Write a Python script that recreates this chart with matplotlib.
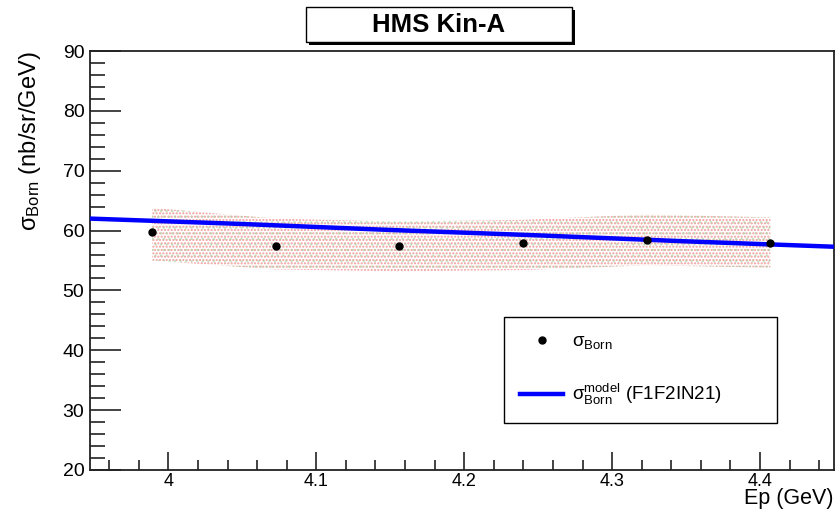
import numpy as np
import matplotlib.pyplot as plt
from matplotlib.patches import Rectangle
from matplotlib.ticker import MultipleLocator, FormatStrFormatter

plt.rcParams['font.family'] = ['Liberation Sans', 'DejaVu Sans']
plt.rcParams['mathtext.fontset'] = 'custom'
plt.rcParams['mathtext.rm'] = 'Liberation Sans'
plt.rcParams['mathtext.it'] = 'Liberation Sans:italic'
plt.rcParams['hatch.linewidth'] = 1.0

# Born cross section vs scattered energy
ep = [3.989, 4.0725, 4.156, 4.24, 4.3235, 4.407]
sigma_born = [59.7, 57.5, 57.4, 58.0, 58.5, 58.0]
band_hi = [63.8, 62.0, 61.5, 61.8, 62.7, 62.2]
band_lo = [55.0, 53.5, 53.2, 53.4, 54.2, 53.8]

# F1F2IN21 model curve
ep_model = [3.947, 4.05, 4.15, 4.25, 4.35, 4.45]
sigma_model = [62.0, 61.1, 60.1, 59.2, 58.2, 57.3]

fig = plt.figure(figsize=(8.4, 5.15), dpi=100)
ax = fig.add_axes([90/840, 1-470/515, (834-90)/840, (470-51)/515])

# systematic band, dotted fill
ax.fill_between(ep, band_lo, band_hi, facecolor='none', edgecolor='#f29a9a',
                hatch='.....', linewidth=0, zorder=1)
ax.fill_between(ep, band_lo, band_hi, facecolor='none', edgecolor='#b0d4a8',
                hatch='...', linewidth=0, alpha=0.6, zorder=1)

ax.plot(ep_model, sigma_model, color='#0000ff', lw=3.2, zorder=3,
        label='σ$^{\\rm model}_{\\rm Born}$ (F1F2IN21)')
ax.plot(ep, sigma_born, 'o', color='black', ms=5, zorder=4,
        label='σ$_{\\rm Born}$')

ax.set_xlim(3.947, 4.45)
ax.set_ylim(20, 90)
ax.xaxis.set_major_locator(MultipleLocator(0.1))
ax.xaxis.set_minor_locator(MultipleLocator(0.02))
ax.xaxis.set_major_formatter(FormatStrFormatter('%g'))
ax.yaxis.set_major_locator(MultipleLocator(10))
ax.yaxis.set_minor_locator(MultipleLocator(2))
ax.tick_params(axis='both', which='both', direction='in', top=False, right=False,
               labelsize=14, color='#222222', width=1.2)
ax.tick_params(axis='y', which='major', length=22, pad=4)
ax.tick_params(axis='y', which='minor', length=11)
ax.tick_params(axis='x', which='major', length=13, pad=2, labelsize=13)
ax.tick_params(axis='x', which='minor', length=7)
for s in ax.spines.values():
    s.set_linewidth(1.3)
    s.set_color('#222222')

ax.set_xlabel('Ep (GeV)', fontsize=15.5, loc='right', labelpad=-1)
ax.set_ylabel('σ$_{\\rm Born}$ (nb/sr/GeV)', fontsize=17, loc='top', labelpad=14)

# legend
handles, labels = ax.get_legend_handles_labels()
leg = ax.legend(handles[::-1], labels[::-1], loc='upper left', mode='expand',
                bbox_to_anchor=(504/840, 1-411/515, (777-504)/840, (411-317)/515),
                bbox_transform=fig.transFigure,
                fancybox=False, edgecolor='black', framealpha=1, fontsize=13.5,
                handlelength=2.3, labelspacing=1.65, borderpad=0.85,
                handletextpad=0.45, borderaxespad=0)
leg.get_frame().set_linewidth(1.0)

# title box with drop shadow
fig.patches.append(Rectangle((309/840, 1-45/515), 266/840, 35/515,
                             transform=fig.transFigure, facecolor='black',
                             edgecolor='none', zorder=5))
fig.patches.append(Rectangle((306/840, 1-42/515), 266/840, 35/515,
                             transform=fig.transFigure, facecolor='white',
                             edgecolor='black', lw=1.0, zorder=6))
fig.text(439/840, 1-25/515, 'HMS Kin-A', ha='center', va='center',
         fontsize=18.5, fontweight='bold', zorder=7)

fig.savefig('out.png', dpi=100)
